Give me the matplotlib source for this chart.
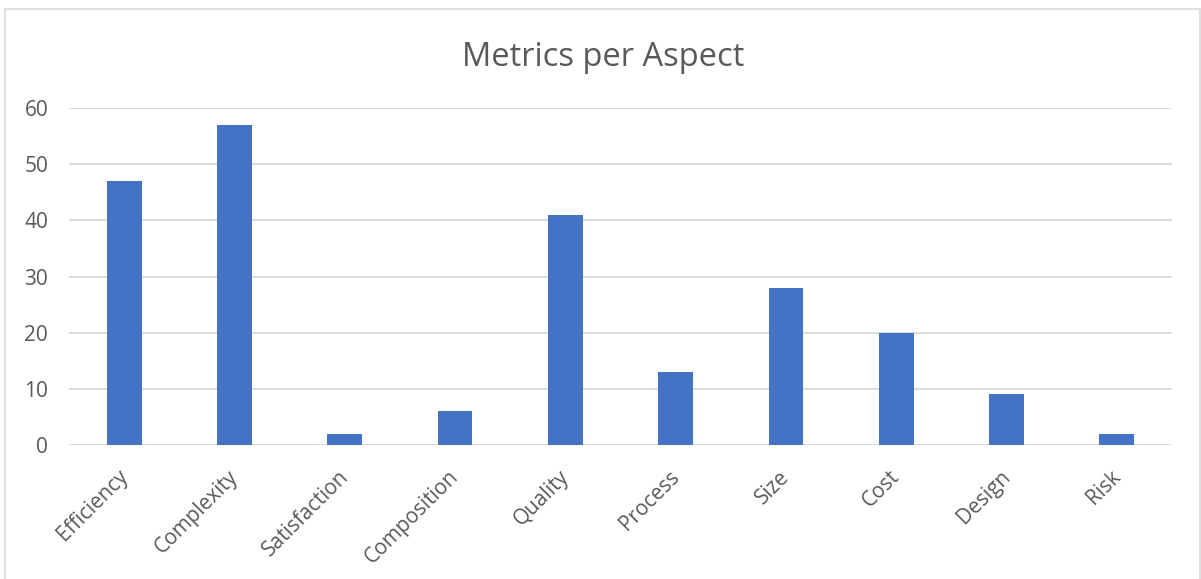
import matplotlib.pyplot as plt
import matplotlib.transforms as mtransforms
from matplotlib.patches import Rectangle

aspects = ['Efficiency', 'Complexity', 'Satisfaction', 'Composition', 'Quality',
           'Process', 'Size', 'Cost', 'Design', 'Risk']
metrics = [47, 57, 2, 6, 41, 13, 28, 20, 9, 2]
yticks = [0, 10, 20, 30, 40, 50, 60]

plt.rcParams['font.family'] = ['Open Sans', 'DejaVu Sans']

fig = plt.figure(figsize=(12.01, 5.79), dpi=100)
ax = fig.add_axes([0.0575, 0.2314, 0.9183, 0.5821])

x = range(len(aspects))
ax.bar(x, metrics, width=0.315, color='#4472C4', zorder=3)

ax.set_xlim(-0.5, len(aspects) - 0.5)
ax.set_ylim(0, 60)
ax.set_yticks(yticks)
ax.set_xticks(list(x))
ax.set_xticklabels(aspects, rotation=45, ha='right', rotation_mode='anchor')
ax.grid(axis='y', color='#d9d9d9', linewidth=1.3, zorder=0)
for s in ax.spines.values():
    s.set_visible(False)
ax.tick_params(length=0, labelsize=15, labelcolor='#595959')
ax.tick_params(axis='y', pad=15)
ax.tick_params(axis='x', pad=8)

# nudge the slanted labels down-left like Excel does
shift = mtransforms.ScaledTranslation(-7 / 100, -10 / 100, fig.dpi_scale_trans)
for lab in ax.get_xticklabels():
    lab.set_transform(lab.get_transform() + shift)

fig.text(603 / 1201, 1 - 66 / 579, 'Metrics per Aspect', fontsize=23.5,
         color='#595959', ha='center', va='baseline')

fig.patches.append(Rectangle((5 / 1201, -0.01), 1195 / 1201, 1 - 9 / 579 + 0.01,
                             transform=fig.transFigure, fill=False,
                             edgecolor='#d9d9d9', linewidth=1.2))

fig.savefig('out.png', dpi=100)
